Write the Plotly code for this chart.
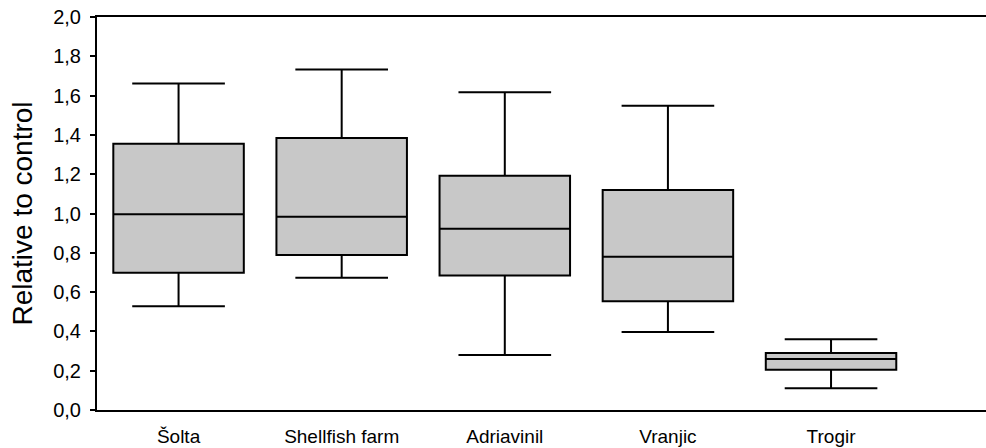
import plotly.graph_objects as go

categories = ["Šolta", "Shellfish farm", "Adriavinil", "Vranjic", "Trogir"]
lower_whisker = [0.528, 0.673, 0.280, 0.397, 0.111]
q1_values = [0.698, 0.789, 0.685, 0.554, 0.205]
median_values = [0.996, 0.984, 0.923, 0.780, 0.259]
q3_values = [1.355, 1.384, 1.192, 1.120, 0.290]
upper_whisker = [1.662, 1.733, 1.617, 1.548, 0.360]
y_ticks = [0.0, 0.2, 0.4, 0.6, 0.8, 1.0, 1.2, 1.4, 1.6, 1.8, 2.0]

fig = go.Figure()
fig.add_trace(go.Box(
    x=categories,
    q1=q1_values,
    median=median_values,
    q3=q3_values,
    lowerfence=lower_whisker,
    upperfence=upper_whisker,
    fillcolor="#c8c8c8",
    line=dict(color="black", width=2),
    width=0.8,
    whiskerwidth=0.71,
    boxpoints=False,
    hoverinfo="skip",
    showlegend=False,
))

font = "Liberation Sans, Arial, sans-serif"
fig.update_layout(
    width=986, height=448,
    margin=dict(l=97, r=0, t=17, b=38),
    paper_bgcolor="white", plot_bgcolor="white",
    separators=",.",
    font=dict(family=font, color="black", size=18),
    xaxis=dict(
        type="category",
        range=[-0.5, 4.95],
        showline=True, linecolor="black", linewidth=2, mirror=True,
        showgrid=False, zeroline=False,
        ticks="outside", ticklen=8, tickcolor="rgba(0,0,0,0)",
        tickfont=dict(size=19, family=font),
    ),
    yaxis=dict(
        range=[0, 2.0],
        tickvals=y_ticks,
        tickformat=".1f",
        showline=True, linecolor="black", linewidth=2,
        showgrid=False, zeroline=False,
        ticks="outside", ticklen=5, tickwidth=1.5, tickcolor="black",
        tickfont=dict(size=20, family=font),
        ticklabelstandoff=5,
        title=dict(text="Relative to control", font=dict(size=28, family=font), standoff=12),
    ),
)

fig.write_html("out.html")
